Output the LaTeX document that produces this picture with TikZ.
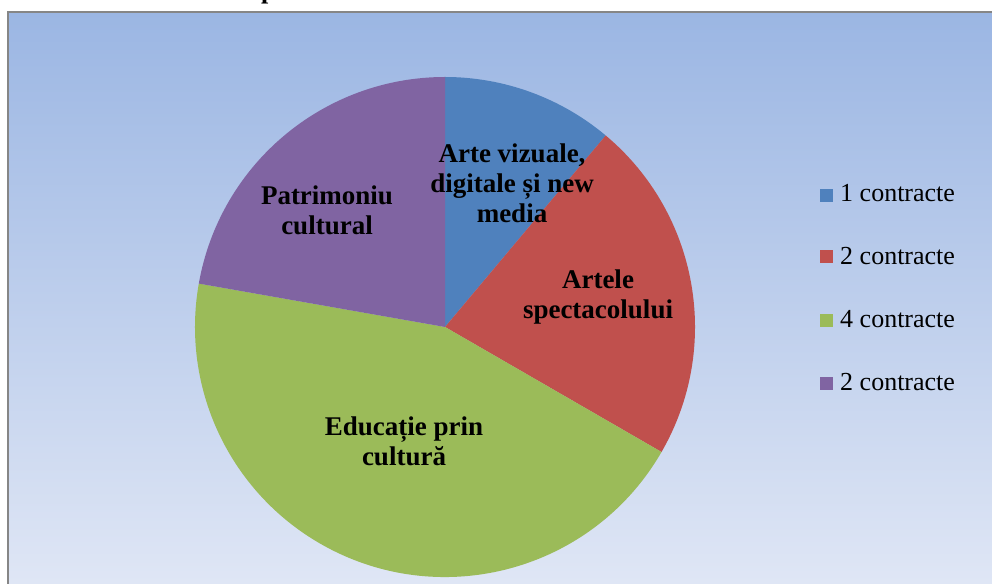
\documentclass[tikz,border=0pt]{standalone}
\usepackage{fontspec}
\setmainfont{Liberation Serif}

\definecolor{felieA}{RGB}{79,129,189}
\definecolor{felieB}{RGB}{192,80,77}
\definecolor{felieC}{RGB}{155,187,89}
\definecolor{felieD}{RGB}{128,100,162}
\definecolor{fundsus}{RGB}{155,182,227}
\definecolor{fundjos}{RGB}{223,230,245}
\definecolor{chenar}{RGB}{134,134,134}

\begin{document}
\begin{tikzpicture}[x=1pt,y=1pt]
    \def\felie#1#2#3{
    \fill[#1] (445,256) -- ++(#2:250) arc[start angle=#2, end angle=#3, radius=250] -- cycle;
    }
    \tikzset{eticheta/.style={font=\fontsize{27}{30}\selectfont\bfseries, align=center, inner sep=0pt},
             legtext/.style={font=\fontsize{26}{30}\selectfont, anchor=base west, inner sep=0pt},
             legpatrat/.style={minimum size=13pt, inner sep=0pt}}

    \useasboundingbox (0,0) rectangle (992,583);
    \fill[white] (0,0) rectangle (992,583);

    % fundal
    \shade[top color=fundsus, bottom color=fundjos] (8,0) rectangle (992,571);
    \draw[chenar, line width=2pt] (8,-5) -- (8,571) -- (1000,571);

    % titlul, taiat sus
    \node[font=\fontsize{26}{30}\selectfont\bfseries, anchor=base west, inner sep=0pt] (titlu) at (261,584) {p};

    % felii
    \felie{felieA}{90}{50}
    \felie{felieB}{50}{-30}
    \felie{felieC}{-30}{-190}
    \felie{felieD}{170}{90}

    \node[eticheta] (arte) at (512,400) {Arte vizuale,\\digitale și new\\media};
    \node[eticheta] (spect) at (598,286) {Artele\\spectacolului};
    \node[eticheta] (educ) at (404,142) {Educație prin\\cultură};
    \node[eticheta] (patr) at (327,373) {Patrimoniu\\cultural};

    % legenda
    \node[legpatrat, fill=felieA] (leg1) at (826.5,387.5) {};
    \node[legpatrat, fill=felieB] (leg2) at (826.5,326) {};
    \node[legpatrat, fill=felieC] (leg3) at (826.5,262.5) {};
    \node[legpatrat, fill=felieD] (leg4) at (826.5,199) {};
    \node[legtext] (txt1) at (840,381) {1 contracte};
    \node[legtext] (txt2) at (840,318) {2 contracte};
    \node[legtext] (txt3) at (840,255) {4 contracte};
    \node[legtext] (txt4) at (840,192) {2 contracte};
\end{tikzpicture}
\end{document}
